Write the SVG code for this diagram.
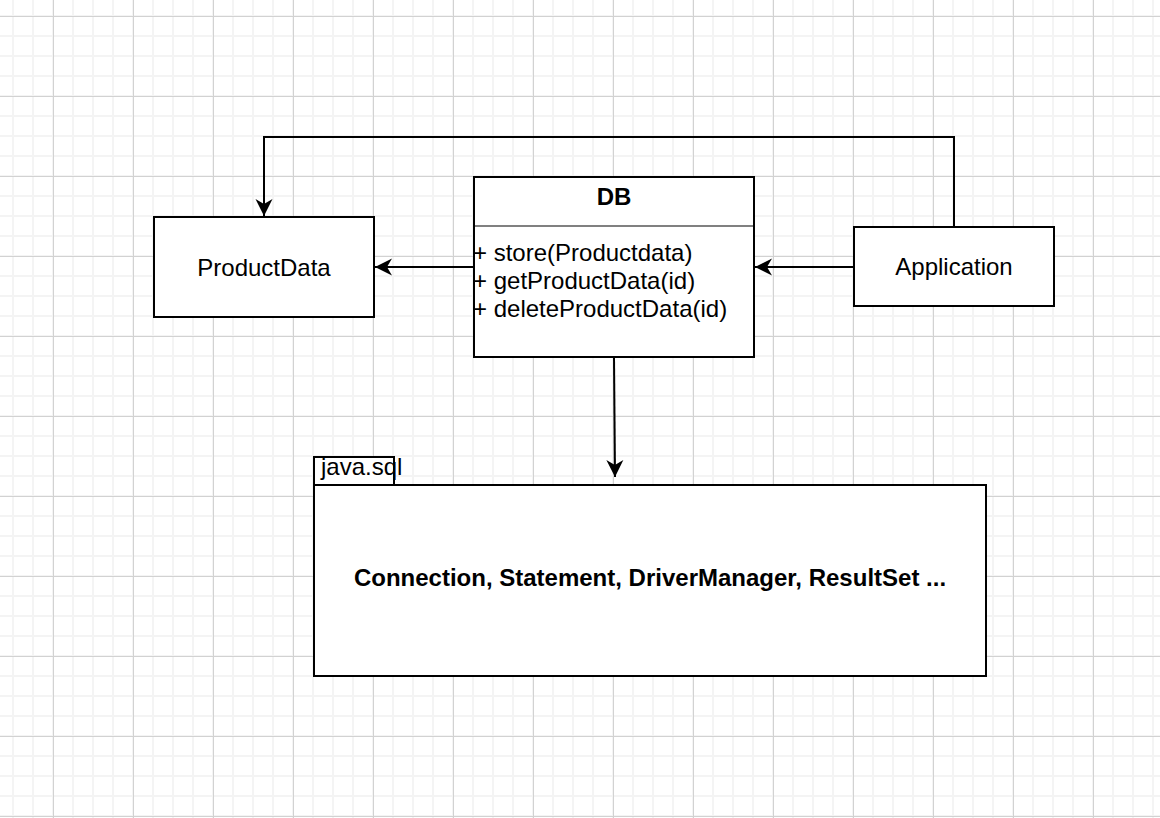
<svg xmlns="http://www.w3.org/2000/svg" width="1160" height="818" viewBox="0 0 1160 818">
  <defs>
    <pattern id="minor" patternUnits="userSpaceOnUse" x="12" y="15" width="20" height="20">
      <rect x="0" y="0" width="20" height="2" fill="#f4f4f4"/>
      <rect x="0" y="0" width="2" height="20" fill="#f4f4f4"/>
    </pattern>
    <pattern id="major" patternUnits="userSpaceOnUse" x="53" y="16" width="80" height="80">
      <rect x="0" y="0" width="80" height="1" fill="#d2d2d2"/>
      <rect x="0" y="0" width="1" height="80" fill="#d2d2d2"/>
    </pattern>
    <marker id="arrow" markerUnits="userSpaceOnUse" viewBox="-18 -9 19 18" refX="0" refY="0" markerWidth="19" markerHeight="18" orient="auto">
      <path d="M0,0 L-17,-8.5 L-12,0 L-17,8.5 Z" fill="#000"/>
    </marker>
  </defs>
  <style>
    .box { fill: #fff; stroke: #000; stroke-width: 2; }
    .edge { fill: none; stroke: #000; stroke-width: 2; marker-end: url(#arrow); }
    text { font-family: "Liberation Sans", Arial, Helvetica, sans-serif; font-size: 24px; fill: #000; }
    .c { text-anchor: middle; }
    .b { font-weight: bold; }
  </style>
  <rect x="0" y="0" width="1160" height="818" fill="#fff"/>
  <rect x="0" y="0" width="1160" height="818" fill="url(#minor)"/>
  <rect x="0" y="0" width="1160" height="818" fill="url(#major)"/>

  <g id="connectors">
    <path class="edge" d="M954,227 V137 H264 V216"/>
    <path class="edge" d="M474,267 H375"/>
    <path class="edge" d="M854,267 H755"/>
    <path class="edge" d="M614,357 L615,477"/>
  </g>

  <g id="ProductData">
    <rect class="box" x="154" y="217" width="220" height="100"/>
    <text class="c" x="264" y="276">ProductData</text>
  </g>

  <g id="DB">
    <rect class="box" x="474" y="177" width="280" height="180"/>
    <line x1="475" y1="226" x2="753" y2="226" stroke="#808080" stroke-width="2"/>
    <text class="c b" x="614" y="205">DB</text>
    <text x="473" y="261">+ store(Productdata)</text>
    <text x="473" y="289">+ getProductData(id)</text>
    <text x="473" y="317">+ deleteProductData(id)</text>
  </g>

  <g id="Application">
    <rect class="box" x="854" y="227" width="200" height="79"/>
    <text class="c" x="954" y="275">Application</text>
  </g>

  <g id="java.sql">
    <rect class="box" x="314" y="457" width="80" height="28"/>
    <rect class="box" x="314" y="485" width="672" height="191"/>
    <text x="321" y="475">java.sql</text>
    <text class="c b" x="650" y="586">Connection, Statement, DriverManager, ResultSet ...</text>
  </g>
</svg>
